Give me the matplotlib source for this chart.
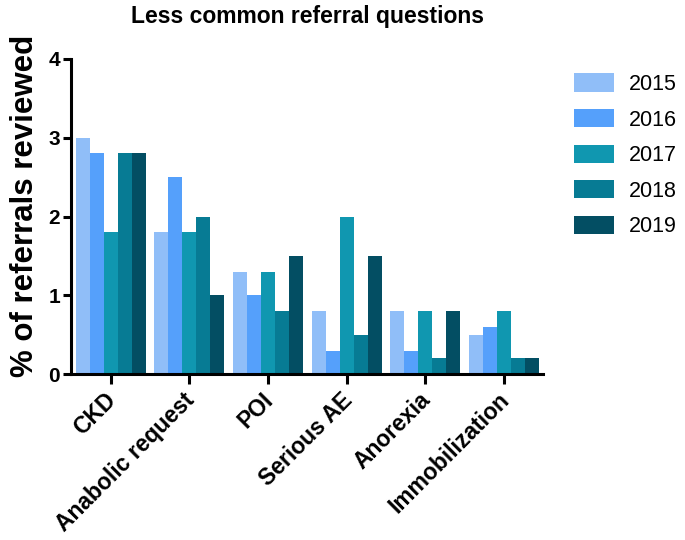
import numpy as np
import matplotlib
matplotlib.use('Agg')
import matplotlib.pyplot as plt
import matplotlib.transforms as mtransforms

plt.rcParams['font.family'] = ['Liberation Sans', 'DejaVu Sans']

# data
categories = ['CKD', 'Anabolic request', 'POI', 'Serious AE', 'Anorexia', 'Immobilization']
years = ['2015', '2016', '2017', '2018', '2019']
v2015 = [3.0, 1.8, 1.3, 0.8, 0.8, 0.5]
v2016 = [2.8, 2.5, 1.0, 0.3, 0.3, 0.6]
v2017 = [1.8, 1.8, 1.3, 2.0, 0.8, 0.8]
v2018 = [2.8, 2.0, 0.8, 0.5, 0.2, 0.2]
v2019 = [2.8, 1.0, 1.5, 1.5, 0.8, 0.2]
colors = ['#90BEF8', '#55A0FB', '#1097B0', '#077B94', '#034E63']

series = [v2015, v2016, v2017, v2018, v2019]

fig = plt.figure(figsize=(6.85, 5.4), dpi=100)
ax = fig.add_axes([0.104, 0.307, 0.689, 0.584])

x = np.arange(len(categories))
w = 0.178
for i, (vals, yr, c) in enumerate(zip(series, years, colors)):
    ax.bar(x + (i - 2) * w, vals, width=w, color=c, label=yr, linewidth=0)

ax.set_xlim(-0.5, len(categories) - 0.5)
ax.set_ylim(0, 4)
ax.set_yticks([0, 1, 2, 3, 4])
ax.set_xticks(x)
ax.set_xticklabels([])
# rotated category labels, nudged a little left of the tick
trans = ax.get_xaxis_transform() + mtransforms.ScaledTranslation(-6 / 100, -14 / 100, fig.dpi_scale_trans)
for xi, name in zip(x, categories):
    ax.text(xi, 0, name, transform=trans, rotation=45, ha='right', va='top',
            rotation_mode='anchor', fontsize=16.5, fontweight='bold')
for lab in ax.get_yticklabels():
    lab.set_fontsize(15)
    lab.set_fontweight('bold')

for s in ['top', 'right']:
    ax.spines[s].set_visible(False)
for s in ['left', 'bottom']:
    ax.spines[s].set_linewidth(2.2)
ax.tick_params(axis='y', length=6, width=2.2, pad=2)
ax.tick_params(axis='x', length=7, width=2.2, pad=4)

ax.set_ylabel('% of referrals reviewed', fontsize=22.5, fontweight='bold')
ax.yaxis.set_label_coords(-0.066, 0.535)
ax.set_title('Less common referral questions', fontsize=16.5, fontweight='bold', pad=26)

fig.legend(loc='upper left', bbox_to_anchor=(0.825, 0.88), frameon=False,
           fontsize=15.5, handlelength=1.86, handleheight=0.93,
           labelspacing=0.65, handletextpad=0.7, borderaxespad=0)

fig.savefig('out.png', dpi=100)
